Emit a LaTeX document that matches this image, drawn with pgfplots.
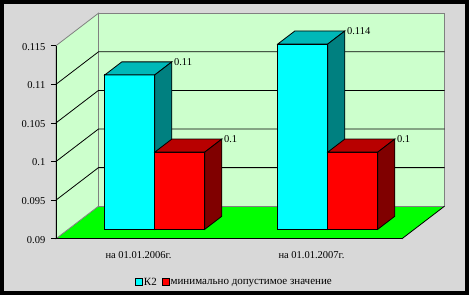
\documentclass[border=0pt]{standalone}
\usepackage{fontspec}
\setmainfont{Liberation Serif}
\usepackage{pgfplots}
\pgfplotsset{compat=1.18}
\usetikzlibrary{backgrounds}
\definecolor{bggray}{RGB}{216,216,216}
\definecolor{wall}{RGB}{204,255,204}
\definecolor{floorg}{RGB}{0,255,0}
\definecolor{cyanface}{RGB}{0,255,255}
\definecolor{cyantop}{RGB}{0,184,184}
\definecolor{cyanside}{RGB}{0,128,128}
\definecolor{redface}{RGB}{255,0,0}
\definecolor{redtop}{RGB}{184,0,0}
\definecolor{redside}{RGB}{128,0,0}
\definecolor{edgegray}{RGB}{128,128,128}
\newcommand{\lblfont}{\fontsize{10.5}{12}\selectfont}
\begin{document}
\begin{tikzpicture}
\begin{axis}[
  x={(173pt,0pt)}, y={(42.5pt,32.5pt)}, z={(0pt,7720pt)},
  xmin=-0.5, xmax=1.5, ymin=0, ymax=1, zmin=0.09, zmax=0.115,
  axis lines*=left,
  separate axis lines,
  axis line style={black, line width=0.8pt},
  y axis line style={draw=none},
  axis on top,
  clip=false,
  xtick={0,1},
  xticklabels={на 01.01.2006г., на 01.01.2007г.},
  x tick style={draw=none},
  ytick=\empty,
  ztick={0.09,0.095,0.1,0.105,0.11,0.115},
  zticklabels={0.09,0.095,0.1,0.105,0.11,0.115},
  z tick style={draw=none},
  tick align=outside,
  major tick length=5pt,
  tick label style={font=\lblfont, text=black},
  zticklabel style={anchor=east, inner sep=1pt, xshift=-5.5pt, yshift=2pt},
  xticklabel style={anchor=north, yshift=-6.5pt},
  legend style={draw=none, fill=none, inner sep=0pt, font=\fontsize{11}{12}\selectfont,
    legend columns=-1, at={(axis cs:-0.5,0,0.09)}, anchor=west,
    xshift=79pt, yshift=-43.5pt,
    nodes={inner sep=1pt},
    /tikz/every even column/.append style={column sep=4pt}},
  legend image code/.code={\draw[#1] (0pt,-3.5pt) rectangle (7pt,3.5pt);},
]
\coordinate (O) at (axis cs:-0.5,0,0.09);
% floor
\addplot3[forget plot, fill=floorg, draw=none] coordinates {(-0.5,0,0.09) (1.5,0,0.09) (1.5,1,0.09) (-0.5,1,0.09)} -- cycle;
% back wall
\addplot3[forget plot, fill=wall, draw=edgegray, line width=0.8pt] coordinates {(-0.5,1,0.09) (1.5,1,0.09) (1.5,1,0.115) (-0.5,1,0.115)} -- cycle;
% left wall
\addplot3[forget plot, fill=wall, draw=edgegray, line width=0.8pt] coordinates {(-0.5,0,0.09) (-0.5,1,0.09) (-0.5,1,0.115) (-0.5,0,0.115)} -- cycle;
% floor right edge
\addplot3[forget plot, black, line width=0.8pt] coordinates {(1.5,0,0.09) (1.5,1,0.09)};
% grid lines
\addplot3[forget plot, black, line width=0.8pt] coordinates {(-0.5,0,0.095) (-0.5,1,0.095) (1.5,1,0.095)};
\addplot3[forget plot, black, line width=0.8pt] coordinates {(-0.5,0,0.1) (-0.5,1,0.1) (1.5,1,0.1)};
\addplot3[forget plot, black, line width=0.8pt] coordinates {(-0.5,0,0.105) (-0.5,1,0.105) (1.5,1,0.105)};
\addplot3[forget plot, black, line width=0.8pt] coordinates {(-0.5,0,0.11) (-0.5,1,0.11) (1.5,1,0.11)};
% tick marks on the value axis
\addplot3[forget plot, black, line width=0.8pt] coordinates {(-0.529,0,0.09) (-0.5,0,0.09)};
\addplot3[forget plot, black, line width=0.8pt] coordinates {(-0.529,0,0.095) (-0.5,0,0.095)};
\addplot3[forget plot, black, line width=0.8pt] coordinates {(-0.529,0,0.1) (-0.5,0,0.1)};
\addplot3[forget plot, black, line width=0.8pt] coordinates {(-0.529,0,0.105) (-0.5,0,0.105)};
\addplot3[forget plot, black, line width=0.8pt] coordinates {(-0.529,0,0.11) (-0.5,0,0.11)};
\addplot3[forget plot, black, line width=0.8pt] coordinates {(-0.529,0,0.115) (-0.5,0,0.115)};
% bar 1 (K2 = 0.11)
\addplot3[forget plot, fill=cyanface, draw=black, line width=0.8pt] coordinates {(-0.289,0.29,0.09) (0,0.29,0.09) (0,0.29,0.11) (-0.289,0.29,0.11)} -- cycle;
\addplot3[forget plot, fill=cyantop, draw=black, line width=0.8pt] coordinates {(-0.289,0.29,0.11) (0,0.29,0.11) (0,0.69,0.11) (-0.289,0.69,0.11)} -- cycle;
\addplot3[forget plot, fill=cyanside, draw=black, line width=0.8pt] coordinates {(0,0.29,0.09) (0,0.69,0.09) (0,0.69,0.11) (0,0.29,0.11)} -- cycle;
% bar 2 (min = 0.1)
\addplot3[forget plot, fill=redface, draw=black, line width=0.8pt] coordinates {(0,0.29,0.09) (0.289,0.29,0.09) (0.289,0.29,0.1) (0,0.29,0.1)} -- cycle;
\addplot3[forget plot, fill=redtop, draw=black, line width=0.8pt] coordinates {(0,0.29,0.1) (0.289,0.29,0.1) (0.289,0.69,0.1) (0,0.69,0.1)} -- cycle;
\addplot3[forget plot, fill=redside, draw=black, line width=0.8pt] coordinates {(0.289,0.29,0.09) (0.289,0.69,0.09) (0.289,0.69,0.1) (0.289,0.29,0.1)} -- cycle;
% bar 3 (K2 = 0.114)
\addplot3[forget plot, fill=cyanface, draw=black, line width=0.8pt] coordinates {(0.711,0.29,0.09) (1,0.29,0.09) (1,0.29,0.114) (0.711,0.29,0.114)} -- cycle;
\addplot3[forget plot, fill=cyantop, draw=black, line width=0.8pt] coordinates {(0.711,0.29,0.114) (1,0.29,0.114) (1,0.69,0.114) (0.711,0.69,0.114)} -- cycle;
\addplot3[forget plot, fill=cyanside, draw=black, line width=0.8pt] coordinates {(1,0.29,0.09) (1,0.69,0.09) (1,0.69,0.114) (1,0.29,0.114)} -- cycle;
% bar 4 (min = 0.1)
\addplot3[forget plot, fill=redface, draw=black, line width=0.8pt] coordinates {(1,0.29,0.09) (1.289,0.29,0.09) (1.289,0.29,0.1) (1,0.29,0.1)} -- cycle;
\addplot3[forget plot, fill=redtop, draw=black, line width=0.8pt] coordinates {(1,0.29,0.1) (1.289,0.29,0.1) (1.289,0.69,0.1) (1,0.69,0.1)} -- cycle;
\addplot3[forget plot, fill=redside, draw=black, line width=0.8pt] coordinates {(1.289,0.29,0.09) (1.289,0.69,0.09) (1.289,0.69,0.1) (1.289,0.29,0.1)} -- cycle;
% value labels
\addplot3[forget plot, draw=none, mark=none, nodes near coords, point meta=explicit symbolic,
  nodes near coords style={anchor=west, font=\lblfont, inner sep=1pt, xshift=1pt, text=black}]
  coordinates {(0,0.69,0.11) [0.11] (0.289,0.69,0.1) [0.1] (1,0.69,0.114) [0.114] (1.289,0.69,0.1) [0.1]};
\addlegendimage{fill=cyanface, draw=black, line width=0.8pt}
\addlegendentry{К2}
\addlegendimage{fill=redface, draw=black, line width=0.8pt}
\addlegendentry{минимально допустимое значение}
\end{axis}
\begin{scope}[on background layer]
\fill[black, shift={(O)}] (-56pt,-56.3pt) rectangle (413pt,238.7pt);
\fill[bggray, shift={(O)}] (-52pt,-52.3pt) rectangle (409pt,234.7pt);
\end{scope}
\end{tikzpicture}
\end{document}
